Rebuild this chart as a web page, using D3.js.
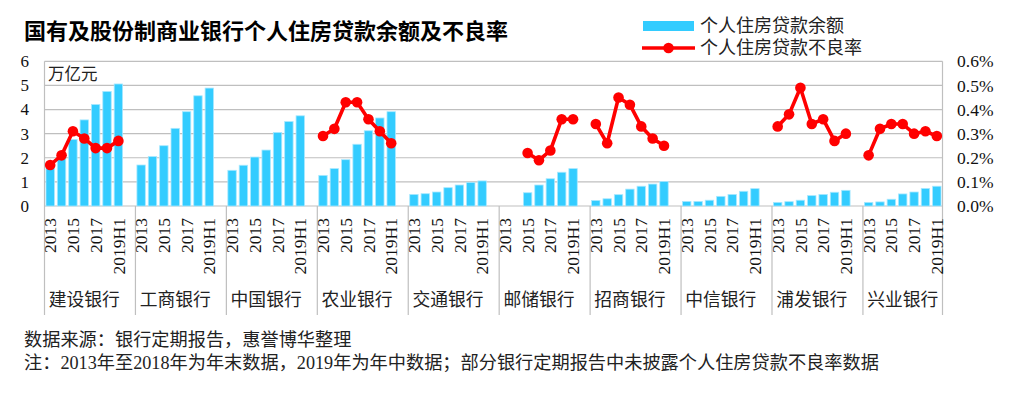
<!DOCTYPE html>
<html><head><meta charset="utf-8">
<script src="https://cdn.jsdelivr.net/npm/d3@7"></script>
<style>
html,body{margin:0;padding:0;background:#fff;}
svg{display:block;}
</style>
</head><body>
<svg id="chart" width="1019" height="396"></svg>
<script>
// ---------- data ----------
const banks = ["建设银行","工商银行","中国银行","农业银行","交通银行","邮储银行","招商银行","中信银行","浦发银行","兴业银行"];
const periods = ["2013","2014","2015","2016","2017","2018","2019H1"];
const tickPeriods = ["2013","2015","2017","2019H1"];
const leftTicks = [0,1,2,3,4,5,6];
const rightTicks = [0,0.001,0.002,0.003,0.004,0.005,0.006];

// 个人住房贷款余额 (万亿元), one array per bank, in bank order
const balanceByBank = [
  [1.70, 2.00, 2.76, 3.57, 4.21, 4.75, 5.06],
  [1.70, 2.05, 2.50, 3.22, 3.91, 4.57, 4.89],
  [1.48, 1.69, 2.03, 2.32, 3.05, 3.50, 3.74],
  [1.27, 1.55, 1.92, 2.56, 3.12, 3.65, 3.91],
  [0.48, 0.51, 0.58, 0.76, 0.87, 0.98, 1.04],
  [null, null, 0.55, 0.87, 1.13, 1.40, 1.55],
  [0.23, 0.30, 0.47, 0.70, 0.82, 0.91, 1.02],
  [0.19, 0.19, 0.24, 0.40, 0.48, 0.61, 0.72],
  [0.15, 0.18, 0.24, 0.43, 0.48, 0.57, 0.65],
  [0.15, 0.17, 0.28, 0.50, 0.58, 0.73, 0.82]
];
// 个人住房贷款不良率 (%), null = not disclosed
const nplByBank = [
  [0.17, 0.21, 0.31, 0.28, 0.24, 0.24, 0.27],
  [null, null, null, null, null, null, null],
  [null, null, null, null, null, null, null],
  [0.29, 0.32, 0.43, 0.43, 0.36, 0.31, 0.26],
  [null, null, null, null, null, null, null],
  [null, null, 0.22, 0.19, 0.23, 0.36, 0.36],
  [0.34, 0.26, 0.45, 0.42, 0.33, 0.28, 0.25],
  [null, null, null, null, null, null, null],
  [0.33, 0.38, 0.49, 0.34, 0.36, 0.27, 0.30],
  [0.21, 0.32, 0.34, 0.34, 0.30, 0.31, 0.29]
];

const titleText = "国有及股份制商业银行个人住房贷款余额及不良率";
const legendNames = ["个人住房贷款余额","个人住房贷款不良率"];
const unitText = "万亿元";
const sourceText = "数据来源：银行定期报告，惠誉博华整理";
const noteText = "注：2013年至2018年为年末数据，2019年为年中数据；部分银行定期报告中未披露个人住房贷款不良率数据";

// ---------- layout ----------
const X0 = 44.5, X1 = 942.5, YTOP = 61.3, YBOT = 206, CATBOT = 315;
const BAR = "#33CCFF", RED = "#FF0000", GRID = "#BFBFBF";
const serif = "'Liberation Serif','Noto Sans CJK SC',serif";
const cjk = "'Liberation Serif','Noto Sans CJK SC',sans-serif";

const svg = d3.select("#chart");

// categories: 7 periods per bank plus a blank slot between banks
const slots = [];
banks.forEach((b, i) => {
  periods.forEach(p => slots.push(b + "|" + p));
  if (i < banks.length - 1) slots.push(b + "|gap");
});
const x = d3.scaleBand().domain(slots).range([X0, X1]).padding(0);
const yL = d3.scaleLinear().domain([0, 6]).range([YBOT, YTOP]);
const yR = d3.scaleLinear().domain([0, 0.006]).range([YBOT, YTOP]);

// gridlines
svg.append("g").selectAll("line").data(leftTicks).join("line")
  .attr("x1", X0).attr("x2", X1)
  .attr("y1", d => yL(d)).attr("y2", d => yL(d))
  .attr("stroke", GRID).attr("stroke-width", 1.2);

// border lines
svg.append("line").attr("x1", X0).attr("x2", X0).attr("y1", YTOP).attr("y2", CATBOT)
  .attr("stroke", GRID).attr("stroke-width", 1.2);
svg.append("line").attr("x1", X1).attr("x2", X1).attr("y1", YTOP).attr("y2", CATBOT)
  .attr("stroke", GRID).attr("stroke-width", 1.2);

// group dividers
svg.append("g").selectAll("line").data(banks.slice(1)).join("line")
  .attr("x1", d => x(d + "|2013")).attr("x2", d => x(d + "|2013"))
  .attr("y1", YBOT).attr("y2", CATBOT)
  .attr("stroke", GRID).attr("stroke-width", 1.2);

// bars
const barData = [];
banks.forEach((b, i) => periods.forEach((p, j) => {
  const v = balanceByBank[i][j];
  if (v != null) barData.push({key: b + "|" + p, v});
}));
const bw = x.bandwidth() * 0.74;
svg.append("g").selectAll("rect").data(barData).join("rect")
  .attr("x", d => x(d.key) + (x.bandwidth() - bw) / 2)
  .attr("width", bw)
  .attr("y", d => yL(d.v))
  .attr("height", d => yL(0) - yL(d.v))
  .attr("fill", BAR)
  .attr("stroke", "#A8E8FF").attr("stroke-width", 0.8);

// lines
const line = d3.line()
  .defined(d => d.v != null)
  .x(d => x(d.key) + x.bandwidth() / 2)
  .y(d => yR(d.v / 100));
const lg = svg.append("g");
banks.forEach((b, i) => {
  const pts = periods.map((p, j) => ({key: b + "|" + p, v: nplByBank[i][j]}));
  if (pts.every(d => d.v == null)) return;
  lg.append("path").datum(pts).attr("d", line)
    .attr("fill", "none").attr("stroke", RED).attr("stroke-width", 3.6)
    .attr("stroke-linejoin", "round");
  lg.selectAll(null).data(pts.filter(d => d.v != null)).join("circle")
    .attr("cx", d => x(d.key) + x.bandwidth() / 2)
    .attr("cy", d => yR(d.v / 100))
    .attr("r", 5.3).attr("fill", RED);
});

// left axis labels
svg.append("g").selectAll("text").data(leftTicks).join("text")
  .attr("x", 29).attr("y", d => yL(d)).attr("dy", "0.35em")
  .attr("text-anchor", "end")
  .attr("font-family", serif).attr("font-size", 17).attr("fill", "#111")
  .text(d => d);

// right axis labels
svg.append("g").selectAll("text").data(rightTicks).join("text")
  .attr("x", 957).attr("y", d => yR(d)).attr("dy", "0.35em")
  .attr("text-anchor", "start")
  .attr("font-family", serif).attr("font-size", 17.5).attr("fill", "#111")
  .text(d => d3.format(".1%")(d));

// unit
svg.append("text").attr("x", 48).attr("y", 80)
  .attr("font-family", cjk).attr("font-size", 16.5).attr("fill", "#222")
  .text(unitText);

// period labels (rotated)
const tickData = [];
banks.forEach(b => tickPeriods.forEach(p => tickData.push(b + "|" + p)));
svg.append("g").selectAll("text").data(tickData).join("text")
  .attr("transform", d => `translate(${x(d) + x.bandwidth() / 2},218) rotate(-90)`)
  .attr("dy", "0.35em")
  .attr("text-anchor", "end")
  .attr("font-family", serif).attr("font-size", 17.5).attr("fill", "#111")
  .text(d => d.split("|")[1]);

// bank labels
svg.append("g").selectAll("text").data(banks).join("text")
  .attr("x", d => (x(d + "|2013") + x(d + "|2019H1") + x.bandwidth()) / 2)
  .attr("y", 300).attr("dy", "0.35em")
  .attr("text-anchor", "middle")
  .attr("font-family", cjk).attr("font-size", 17.8).attr("fill", "#222")
  .text(d => d);

// title
svg.append("text").attr("x", 24).attr("y", 39)
  .attr("font-family", "'Noto Sans CJK SC',sans-serif").attr("font-weight", 700)
  .attr("font-size", 22).attr("fill", "#000")
  .text(titleText);

// legend
svg.append("rect").attr("x", 643).attr("y", 21).attr("width", 51).attr("height", 10).attr("fill", BAR);
svg.append("text").attr("x", 700).attr("y", 26).attr("dy", "0.35em")
  .attr("font-family", cjk).attr("font-size", 18).attr("fill", "#222").text(legendNames[0]);
svg.append("line").attr("x1", 642).attr("x2", 695).attr("y1", 48).attr("y2", 48)
  .attr("stroke", RED).attr("stroke-width", 3.6);
svg.append("circle").attr("cx", 668.5).attr("cy", 48).attr("r", 5.3).attr("fill", RED);
svg.append("text").attr("x", 700).attr("y", 48).attr("dy", "0.35em")
  .attr("font-family", cjk).attr("font-size", 18).attr("fill", "#222").text(legendNames[1]);

// footer
svg.append("text").attr("x", 24).attr("y", 340).attr("dy", "0.35em")
  .attr("font-family", cjk).attr("font-size", 18.2).attr("fill", "#222").text(sourceText);
svg.append("text").attr("x", 24).attr("y", 363).attr("dy", "0.35em")
  .attr("font-family", cjk).attr("font-size", 18.2).attr("fill", "#222").text(noteText);
</script>
</body></html>
